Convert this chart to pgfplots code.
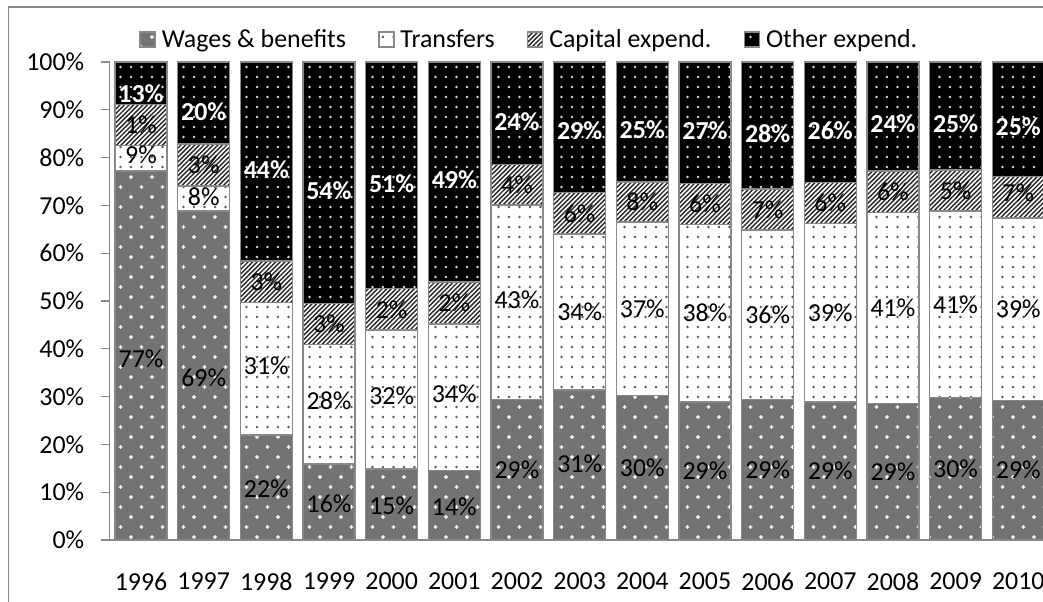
\documentclass[border=0pt]{standalone}
\usepackage{pgfplots}
\pgfplotsset{compat=1.18}
\usepackage{pgfplotstable}
\usepackage{fontspec}
\setmainfont{Carlito}
\usetikzlibrary{patterns}

\definecolor{bordergray}{RGB}{137,137,137}
\definecolor{wagegray}{RGB}{115,115,115}
\definecolor{dotgray}{RGB}{90,90,90}

\pgfdeclarepatternformonly{sparsedots}{\pgfqpoint{-1bp}{-1bp}}{\pgfqpoint{11bp}{11bp}}{\pgfqpoint{10.5bp}{10bp}}{%
  \pgfpathcircle{\pgfqpoint{5bp}{5bp}}{1.3bp}\pgfusepath{fill}}
\pgfdeclarepatternformonly{plusdots}{\pgfqpoint{-1bp}{-1bp}}{\pgfqpoint{22bp}{21bp}}{\pgfqpoint{21bp}{20bp}}{%
  \pgfpathrectangle{\pgfqpoint{3.2bp}{4.4bp}}{\pgfqpoint{3.6bp}{1.2bp}}%
  \pgfpathrectangle{\pgfqpoint{4.4bp}{3.2bp}}{\pgfqpoint{1.2bp}{3.6bp}}%
  \pgfpathrectangle{\pgfqpoint{13.7bp}{14.4bp}}{\pgfqpoint{3.6bp}{1.2bp}}%
  \pgfpathrectangle{\pgfqpoint{14.9bp}{13.2bp}}{\pgfqpoint{1.2bp}{3.6bp}}\pgfusepath{fill}}
\pgfdeclarepatternformonly{densestripes}{\pgfqpoint{-1bp}{-1bp}}{\pgfqpoint{6bp}{6bp}}{\pgfqpoint{4.6bp}{4.6bp}}{%
  \pgfsetlinewidth{1.4bp}\pgfpathmoveto{\pgfqpoint{0bp}{0bp}}\pgfpathlineto{\pgfqpoint{4.7bp}{4.7bp}}\pgfusepath{stroke}}

\newcommand\chartfont{\fontsize{26}{30}\selectfont}

% bar heights (as drawn) and the printed labels
\pgfplotstableread{
x  w     t     c    o    lw lt lc lo
0  77.2  5.3   8.6  8.9  77 9  1  13
1  68.8  5.3   8.7  17.2 69 8  3  20
2  22.0  27.7  8.7  41.6 22 31 3  44
3  15.9  25.0  8.6  50.5 16 28 3  54
4  14.9  29.0  8.7  47.4 15 32 2  51
5  14.5  30.7  8.8  46.0 14 34 2  49
6  29.4  40.7  8.5  21.4 29 43 4  24
7  31.4  32.6  8.7  27.3 31 34 6  29
8  30.2  36.3  8.4  25.1 30 37 8  25
9  28.9  37.1  8.6  25.4 29 38 6  27
10 29.4  35.5  8.5  26.6 29 36 7  28
11 28.9  37.3  8.6  25.2 29 39 6  26
12 28.6  39.9  8.7  22.8 29 41 6  24
13 29.8  39.0  8.6  22.6 30 41 5  25
14 29.2  38.2  8.6  24.0 29 39 7  25
}\data

% label positions (centres of the segments as labelled)
\pgfplotstableread{
x  wm    tm     cm     om     lw lt lc lo
0  38.0  80.6   86.8   93.4   77 9  1  13
1  34.0  71.8   78.5   89.6   69 8  3  20
2  10.8  36.5   54.0   77.5   22 31 3  44
3  7.5   29.2   45.2   73.0   16 28 3  54
4  7.2   30.2   48.2   74.6   15 32 2  51
5  7.0   30.5   49.6   75.4   14 34 2  49
6  14.7  50.2   74.3   87.6   29 43 4  24
7  15.9  47.8   68.3   85.6   31 34 6  29
8  15.1  48.3   70.7   85.8   30 37 8  25
9  14.4  47.5   70.3   85.6   29 38 6  27
10 14.7  47.2   69.1   85.1   29 36 7  28
11 14.4  47.6   70.5   85.7   29 39 6  26
12 14.3  48.6   72.8   87.0   29 41 6  24
13 14.9  49.3   73.1   87.0   30 41 5  25
14 14.6  48.3   72.7   86.4   29 39 7  25
}\labels

\begin{document}
\begin{tikzpicture}
\useasboundingbox (0,0) rectangle (1043bp,602bp);
\draw[bordergray, line width=1.3bp] (8.5bp,-30bp) rectangle (1065bp,595bp);
\begin{axis}[
  at={(109.7bp,62bp)}, anchor=south west,
  scale only axis, width=939.9bp, height=478bp,
  ybar stacked, bar width=0.83,
  xmin=-0.5, xmax=14.5, ymin=0, ymax=100,
  xtick={0,...,14},
  xticklabels={1996,1997,1998,1999,2000,2001,2002,2003,2004,2005,2006,2007,2008,2009,2010},
  ytick={0,10,...,100},
  yticklabel={\pgfmathprintnumber[assume math mode=true]{\tick}\%},
  axis lines*=left,
  axis line style={draw=bordergray, line width=1.3bp},
  tick align=outside, major tick length=9bp,
  xtick style={draw=none},
  ytick style={draw=bordergray, line width=1.3bp},
  tick label style={font=\chartfont},
  yticklabel style={anchor=east, xshift=-13bp},
  xticklabel style={anchor=north, yshift=-20bp},
  legend style={at={(axis description cs:0.0315,1.047)}, anchor=west, draw=none, fill=none,
    inner sep=0pt, outer sep=0pt,
    font=\chartfont, legend columns=-1,
    cells={anchor=west, inner sep=0.5bp},
    /tikz/every odd column/.append style={column sep=4bp},
    /tikz/every even column/.append style={column sep=30bp}},
  legend image code/.code={\draw[#1] (0bp,-7.5bp) rectangle (15bp,7.5bp);},
]
\addplot[draw=bordergray, line width=1.5bp, fill=wagegray, postaction={pattern=plusdots, pattern color=white}]
  table[x=x, y=w]{\data};
\addplot[draw=bordergray, line width=1.5bp, fill=white, postaction={pattern=sparsedots, pattern color=dotgray}]
  table[x=x, y=t]{\data};
\addplot[draw=bordergray, line width=1.5bp, fill=white, postaction={pattern=densestripes, pattern color=black!85}]
  table[x=x, y=c]{\data};
\addplot[draw=bordergray, line width=1.5bp, fill=black, postaction={pattern=sparsedots, pattern color=white!85!black}]
  table[x=x, y=o]{\data};
\legend{Wages \& benefits, Transfers, Capital expend., Other expend.}
\end{axis}
\begin{axis}[
  at={(109.7bp,62bp)}, anchor=south west,
  scale only axis, width=939.9bp, height=478bp,
  xmin=-0.5, xmax=14.5, ymin=0, ymax=100,
  hide axis, clip=false,
  lab/.style={draw=none, mark=none, nodes near coords={\pgfplotspointmeta\%}, point meta=explicit symbolic,
    every node near coord/.append style={anchor=center, font=\chartfont, inner sep=0pt}},
]
\addplot[lab] table[x=x, y=wm, meta=lw]{\labels};
\addplot[lab] table[x=x, y=tm, meta=lt]{\labels};
\addplot[lab] table[x=x, y=cm, meta=lc]{\labels};
\addplot[lab, every node near coord/.append style={text=white, font=\chartfont\bfseries}] table[x=x, y=om, meta=lo]{\labels};
\end{axis}
\end{tikzpicture}
\end{document}
